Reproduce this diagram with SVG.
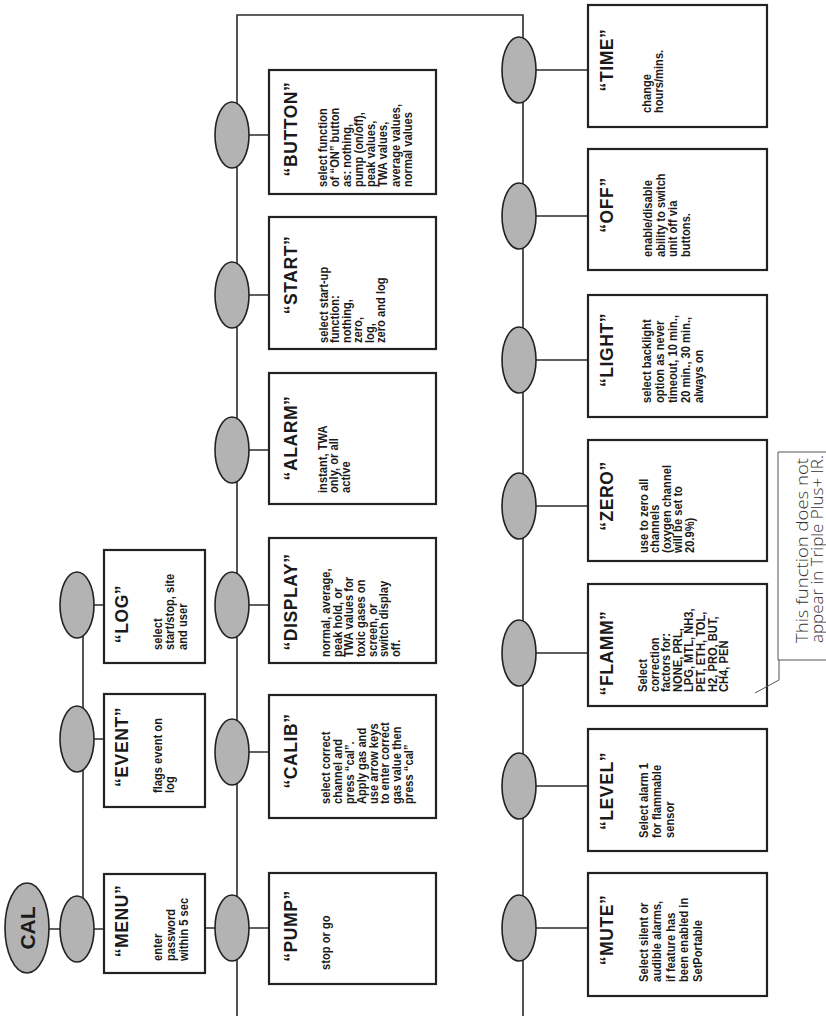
<svg xmlns="http://www.w3.org/2000/svg" width="826" height="1018" viewBox="0 0 826 1018">
<style>
.bg{fill:#ffffff}
.ln{stroke:#2b2b2b;stroke-width:1.6;fill:none}
.el{fill:#b3b3b3;stroke:#222;stroke-width:1.6}
.bx{fill:#ffffff;stroke:#222;stroke-width:2.2}
.tt{font-family:"Liberation Sans",Arial,sans-serif;font-weight:bold;font-size:17.5px;fill:#1a1a1a;text-anchor:middle;letter-spacing:0.6px}
.bd{font-family:"Liberation Sans",Arial,sans-serif;font-weight:bold;font-size:12px;fill:#1a1a1a}
.cal{font-family:"Liberation Sans",Arial,sans-serif;font-weight:bold;font-size:21px;fill:#1a1a1a;text-anchor:middle}
.note{font-family:"Open Sans","Noto Sans",sans-serif;font-weight:300;font-size:17px;fill:#333}
.nl{stroke:#555;stroke-width:1;fill:none}
</style>
<rect class="bg" x="0" y="0" width="826" height="1018"/>
<g id="connectors">
<path class="ln" d="M237,1016 V15 H523 V1016"/>
<path class="ln" d="M83,605 V929"/>
<path class="ln" d="M49,929 H104"/>
<path class="ln" d="M94,739 H104 M94,605 H104"/>
<path class="ln" d="M205,928 H269"/>
<path class="ln" d="M249,135 H269 M249,295 H269 M249,450 H269 M249,605 H269 M249,752 H269"/>
<path class="ln" d="M536,70 H588 M536,216 H588 M536,360 H588 M536,506 H588 M536,653 H588 M536,786 H588 M536,928 H588"/>
</g>
<g id="cal"><ellipse class="el" cx="27" cy="928" rx="22" ry="45"/><text class="cal" transform="translate(35,928) rotate(-90)">CAL</text></g>
<g id="menu-dot"><ellipse class="el" cx="77" cy="929" rx="17" ry="33"/></g>
<g id="event-dot"><ellipse class="el" cx="77" cy="739" rx="17" ry="33"/></g>
<g id="log-dot"><ellipse class="el" cx="77" cy="605" rx="17" ry="33"/></g>
<g id="button-dot"><ellipse class="el" cx="232" cy="135" rx="17" ry="33"/></g>
<g id="start-dot"><ellipse class="el" cx="232" cy="295" rx="17" ry="33"/></g>
<g id="alarm-dot"><ellipse class="el" cx="232" cy="450" rx="17" ry="33"/></g>
<g id="display-dot"><ellipse class="el" cx="232" cy="605" rx="17" ry="33"/></g>
<g id="calib-dot"><ellipse class="el" cx="232" cy="752" rx="17" ry="33"/></g>
<g id="pump-dot"><ellipse class="el" cx="232" cy="928" rx="17" ry="33"/></g>
<g id="time-dot"><ellipse class="el" cx="519" cy="70" rx="17" ry="33"/></g>
<g id="off-dot"><ellipse class="el" cx="519" cy="216" rx="17" ry="33"/></g>
<g id="light-dot"><ellipse class="el" cx="519" cy="360" rx="17" ry="33"/></g>
<g id="zero-dot"><ellipse class="el" cx="519" cy="506" rx="17" ry="33"/></g>
<g id="flamm-dot"><ellipse class="el" cx="519" cy="653" rx="17" ry="33"/></g>
<g id="level-dot"><ellipse class="el" cx="519" cy="786" rx="17" ry="33"/></g>
<g id="mute-dot"><ellipse class="el" cx="519" cy="928" rx="17" ry="33"/></g>

<g id="menu"><rect class="bx" x="104" y="874" width="101" height="99"/>
<text class="tt" transform="translate(128,921) rotate(-90)">“MENU”</text>
<text class="bd" transform="translate(162,961) rotate(-90) scale(0.93,1)"><tspan x="0">enter</tspan><tspan x="0" dy="13">password</tspan><tspan x="0" dy="13">within 5 sec</tspan></text></g>
<g id="event"><rect class="bx" x="104" y="694" width="101" height="113"/>
<text class="tt" transform="translate(128,747) rotate(-90)">“EVENT”</text>
<text class="bd" transform="translate(162,793) rotate(-90) scale(0.93,1)"><tspan x="0">flags event on</tspan><tspan x="0" dy="12.5">log</tspan></text></g>
<g id="log"><rect class="bx" x="104" y="550" width="101" height="113"/>
<text class="tt" transform="translate(128,614) rotate(-90)">“LOG”</text>
<text class="bd" transform="translate(162,650) rotate(-90) scale(0.93,1)"><tspan x="0">select</tspan><tspan x="0" dy="12.5">start/stop, site</tspan><tspan x="0" dy="12.5">and user</tspan></text></g>

<g id="button"><rect class="bx" x="269" y="70" width="167" height="124"/>
<text class="tt" transform="translate(297,129) rotate(-90)">“BUTTON”</text>
<text class="bd" transform="translate(327,187) rotate(-90) scale(0.93,1)"><tspan x="0">select function</tspan><tspan x="0" dy="12.1">of “ON” button</tspan><tspan x="0" dy="12.1">as: nothing,</tspan><tspan x="0" dy="12.1">pump (on/off),</tspan><tspan x="0" dy="12.1">peak values,</tspan><tspan x="0" dy="12.1">TWA values,</tspan><tspan x="0" dy="12.1">average values,</tspan><tspan x="0" dy="12.1">normal values</tspan></text></g>
<g id="start"><rect class="bx" x="269" y="217" width="167" height="132"/>
<text class="tt" transform="translate(297,275) rotate(-90)">“START”</text>
<text class="bd" transform="translate(328,343) rotate(-90) scale(0.93,1)"><tspan x="0">select start-up</tspan><tspan x="0" dy="11.4">function:</tspan><tspan x="0" dy="11.4">nothing,</tspan><tspan x="0" dy="11.4">zero,</tspan><tspan x="0" dy="11.4">log,</tspan><tspan x="0" dy="11.4">zero and log</tspan></text></g>
<g id="alarm"><rect class="bx" x="269" y="373" width="167" height="131"/>
<text class="tt" transform="translate(297,438) rotate(-90)">“ALARM”</text>
<text class="bd" transform="translate(327,493) rotate(-90) scale(0.93,1)"><tspan x="0">instant, TWA</tspan><tspan x="0" dy="11.5">only, or all</tspan><tspan x="0" dy="11.5">active</tspan></text></g>
<g id="display"><rect class="bx" x="269" y="538" width="167" height="125"/>
<text class="tt" transform="translate(297,602) rotate(-90)">“DISPLAY”</text>
<text class="bd" transform="translate(330,657) rotate(-90) scale(0.93,1)"><tspan x="0">normal, average,</tspan><tspan x="0" dy="11.7">peak hold, or</tspan><tspan x="0" dy="11.7">TWA values for</tspan><tspan x="0" dy="11.7">toxic gases on</tspan><tspan x="0" dy="11.7">screen, or</tspan><tspan x="0" dy="11.7">switch display</tspan><tspan x="0" dy="11.7">off.</tspan></text></g>
<g id="calib"><rect class="bx" x="269" y="695" width="167" height="123"/>
<text class="tt" transform="translate(297,751) rotate(-90)">“CALIB”</text>
<text class="bd" transform="translate(330,804) rotate(-90) scale(0.93,1)"><tspan x="0">select correct</tspan><tspan x="0" dy="11.9">channel and</tspan><tspan x="0" dy="11.9">press “cal”.</tspan><tspan x="0" dy="11.9">Apply gas and</tspan><tspan x="0" dy="11.9">use arrow keys</tspan><tspan x="0" dy="11.9">to enter correct</tspan><tspan x="0" dy="11.9">gas value then</tspan><tspan x="0" dy="11.9">press “cal”</tspan></text></g>
<g id="pump"><rect class="bx" x="269" y="873" width="167" height="111"/>
<text class="tt" transform="translate(297,926) rotate(-90)">“PUMP”</text>
<text class="bd" transform="translate(330,970) rotate(-90) scale(0.93,1)">stop or go</text></g>

<g id="time"><rect class="bx" x="588" y="5" width="179" height="122"/>
<text class="tt" transform="translate(613,60) rotate(-90)">“TIME”</text>
<text class="bd" transform="translate(651,113) rotate(-90) scale(0.93,1)"><tspan x="0">change</tspan><tspan x="0" dy="12.5">hours/mins.</tspan></text></g>
<g id="off"><rect class="bx" x="588" y="149" width="179" height="121"/>
<text class="tt" transform="translate(613,205) rotate(-90)">“OFF”</text>
<text class="bd" transform="translate(652,257) rotate(-90) scale(0.93,1)"><tspan x="0">enable/disable</tspan><tspan x="0" dy="12.7">ability to switch</tspan><tspan x="0" dy="12.7">unit off via</tspan><tspan x="0" dy="12.7">buttons.</tspan></text></g>
<g id="light"><rect class="bx" x="588" y="295" width="179" height="122"/>
<text class="tt" transform="translate(613,350) rotate(-90)">“LIGHT”</text>
<text class="bd" transform="translate(651,403) rotate(-90) scale(0.93,1)"><tspan x="0">select backlight</tspan><tspan x="0" dy="13">option as never</tspan><tspan x="0" dy="13">timeout, 10 min.,</tspan><tspan x="0" dy="13">20 min., 30 min.,</tspan><tspan x="0" dy="13">always on</tspan></text></g>
<g id="zero"><rect class="bx" x="588" y="440" width="179" height="121"/>
<text class="tt" transform="translate(613,496) rotate(-90)">“ZERO”</text>
<text class="bd" transform="translate(648,553) rotate(-90) scale(0.93,1)"><tspan x="0">use to zero all</tspan><tspan x="0" dy="11.5">channels</tspan><tspan x="0" dy="11.5">(oxygen channel</tspan><tspan x="0" dy="11.5">will be set to</tspan><tspan x="0" dy="11.5">20.9%)</tspan></text></g>
<g id="flamm"><rect class="bx" x="588" y="584" width="179" height="122"/>
<text class="tt" transform="translate(613,653) rotate(-90)">“FLAMM”</text>
<text class="bd" transform="translate(647,692) rotate(-90) scale(0.93,1)"><tspan x="0">Select</tspan><tspan x="0" dy="11.6">correction</tspan><tspan x="0" dy="11.6">factors for:</tspan><tspan x="0" dy="11.6">NONE, PRL,</tspan><tspan x="0" dy="11.6">LPG, MTL, NH3,</tspan><tspan x="0" dy="11.6">PET, ETH, TOL,</tspan><tspan x="0" dy="11.6">H2, PRO, BUT,</tspan><tspan x="0" dy="11.6">CH4, PEN</tspan></text></g>
<g id="level"><rect class="bx" x="588" y="729" width="179" height="122"/>
<text class="tt" transform="translate(613,791) rotate(-90)">“LEVEL”</text>
<text class="bd" transform="translate(648,838) rotate(-90) scale(0.93,1)"><tspan x="0">Select alarm 1</tspan><tspan x="0" dy="13">for flammable</tspan><tspan x="0" dy="13">sensor</tspan></text></g>
<g id="mute"><rect class="bx" x="588" y="873" width="179" height="123"/>
<text class="tt" transform="translate(613,930) rotate(-90)">“MUTE”</text>
<text class="bd" transform="translate(648,982) rotate(-90) scale(0.93,1)"><tspan x="0">Select silent or</tspan><tspan x="0" dy="13.5">audible alarms,</tspan><tspan x="0" dy="13.5">if feature has</tspan><tspan x="0" dy="13.5">been enabled in</tspan><tspan x="0" dy="13.5">SetPortable</tspan></text></g>

<g id="note">
<path class="nl" d="M830,452 H778 V660 H830"/>
<path class="nl" d="M779,660 V680 L755,693"/>
<text class="note" transform="translate(808,643) rotate(-90)" textLength="185" lengthAdjust="spacingAndGlyphs">This function does not</text>
<text class="note" transform="translate(823,643) rotate(-90)" textLength="188" lengthAdjust="spacingAndGlyphs">appear in Triple Plus+ IR.</text>
</g>
</svg>
